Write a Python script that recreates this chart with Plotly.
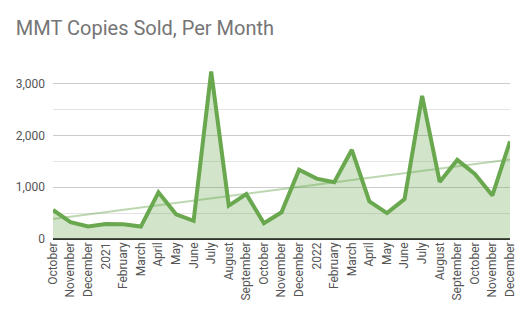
import numpy as np
import plotly.graph_objects as go

months = ["October", "November", "December", "2021", "February", "March", "April",
          "May", "June", "July", "August", "September", "October", "November",
          "December", "2022", "February", "March", "April", "May", "June", "July",
          "August", "September", "October", "November", "December"]
copies = [560, 325, 240, 290, 285, 240, 900, 475, 350, 3230, 645, 865, 305, 515,
          1335, 1165, 1095, 1720, 725, 500, 770, 2760, 1100, 1525, 1255, 840, 1885]

x = np.arange(len(months))
slope, intercept = np.polyfit(x, copies, 1)
trend = slope * x + intercept

fig = go.Figure()
fig.add_trace(go.Scatter(
    x=x, y=copies, mode="lines", fill="tozeroy",
    line=dict(color="#6aa84f", width=4),
    fillcolor="rgba(106,168,79,0.3)", hoverinfo="skip"))
fig.add_trace(go.Scatter(
    x=x, y=trend, mode="lines",
    line=dict(color="rgba(106,168,79,0.45)", width=2), hoverinfo="skip"))

fig.update_layout(
    width=529, height=326,
    margin=dict(l=53, r=17, t=57, b=87),
    paper_bgcolor="white", plot_bgcolor="white",
    showlegend=False,
    font=dict(family="Roboto, Arial, sans-serif", color="#444444", size=12),
    title=dict(text="MMT Copies Sold, Per Month", x=0.03, xanchor="left",
               y=0.915, yanchor="middle",
               font=dict(family="Roboto", size=20, color="#757575")),
    xaxis=dict(tickmode="array", tickvals=x, ticktext=months, tickangle=-90,
               range=[0, len(months) - 1], showgrid=False, zeroline=False,
               showline=False, ticks="", tickfont=dict(size=12, color="#555555")),
    yaxis=dict(range=[0, 3510], tickvals=[0, 1000, 2000, 3000],
               tickformat=",", showgrid=True, gridcolor="#cccccc", gridwidth=1,
               minor=dict(tickvals=[500, 1500, 2500, 3500], showgrid=True,
                          gridcolor="#e3e3e3"),
               zeroline=True, zerolinecolor="#333333", zerolinewidth=2,
               ticks="", ticklabelstandoff=7,
               tickfont=dict(size=12, color="#555555")),
)

fig.write_html("out.html")
